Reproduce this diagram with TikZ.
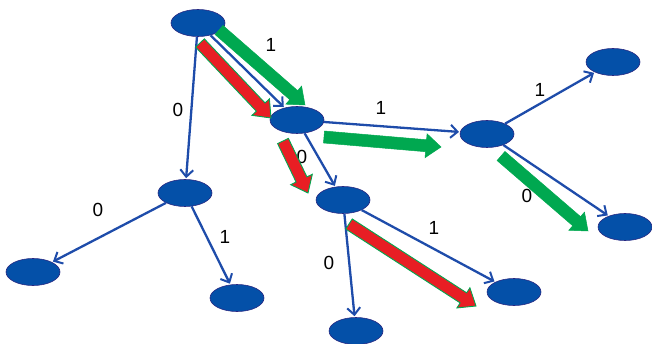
\documentclass[tikz,border=0pt]{standalone}
\usepackage{fontspec}
\setmainfont{Liberation Sans}
\usetikzlibrary{shapes.geometric,arrows.meta,calc}
\definecolor{nodeblue}{RGB}{4,80,168}
\definecolor{nodeedge}{RGB}{40,40,130}
\definecolor{lineblue}{RGB}{30,76,170}
\definecolor{hgreen}{RGB}{0,168,80}
\definecolor{hred}{RGB}{232,30,36}
\newcommand\fatarrow[3]{%
  \coordinate (fa-t) at ($(#3)!15pt!(#2)$);
  \filldraw[#1] ($(#2)!6pt!90:(#3)$) -- ($(fa-t)!6pt!-90:(#2)$) -- ($(fa-t)!12pt!-90:(#2)$) -- (#3) -- ($(fa-t)!12pt!90:(#2)$) -- ($(fa-t)!6pt!90:(#2)$) -- ($(#2)!6pt!-90:(#3)$) -- cycle;}
\begin{document}
\begin{tikzpicture}[x=1pt,y=-1pt,
  vtx/.style={ellipse,fill=nodeblue,draw=nodeedge,line width=0.6pt,minimum width=54pt,minimum height=27pt,inner sep=0pt},
  edge/.style={draw=lineblue,line width=2.3pt,-{Straight Barb[length=7pt,width=13pt,line width=2pt]},shorten >=1pt},
  lbl/.style={font=\fontsize{19}{21}\selectfont,text=black},
  greenarrow/.style={fill=hgreen,draw=hgreen,line width=0.5pt},
  redarrow/.style={fill=hred,draw=hgreen,line width=0.9pt}]
\useasboundingbox (0,0) rectangle (652,344);
% nodes
\node[vtx] (A) at (198,23) {};
\node[vtx] (B) at (297,120) {};
\node[vtx] (C) at (185,193) {};
\node[vtx] (D) at (33,272) {};
\node[vtx] (E) at (237,298) {};
\node[vtx] (F) at (343,200) {};
\node[vtx] (G) at (356,331) {};
\node[vtx] (H) at (514,292) {};
\node[vtx] (I) at (487,134) {};
\node[vtx] (J) at (613,62) {};
\node[vtx] (K) at (625,227) {};
% blue edges
\draw[edge] (A) -- (C);
\draw[edge] (A) -- (B);
\draw[edge] (B) -- (I);
\draw[edge] (B) -- (F);
\draw[edge] (C) -- (D);
\draw[edge] (C) -- (E);
\draw[edge] (F) -- (G);
\draw[edge] (F) -- (H);
\draw[edge] (I) -- (J);
\draw[edge] (I) -- (K);
% labels
\node[lbl] (l1) at (178,110) {0};
\node[lbl] (l2) at (271,45) {1};
\node[lbl] (l3) at (381,108) {1};
\node[lbl] (l4) at (302,157) {0};
\node[lbl] (l5) at (98,210) {0};
\node[lbl] (l6) at (225,237) {1};
\node[lbl] (l7) at (329,263) {0};
\node[lbl] (l8) at (434,228) {1};
\node[lbl] (l9) at (540,90) {1};
\node[lbl] (l10) at (527,196) {0};
% highlight arrows
\coordinate (g1s) at (219,30);
\coordinate (g1e) at (305,105);
\coordinate (r1s) at (200,43);
\coordinate (r1e) at (271,118);
\coordinate (g2s) at (324,137);
\coordinate (g2e) at (441,147);
\coordinate (r2s) at (283,141);
\coordinate (r2e) at (308,193);
\coordinate (r3s) at (349,224);
\coordinate (r3e) at (476,306);
\coordinate (g3s) at (501,156);
\coordinate (g3e) at (588,231);
\fatarrow{greenarrow}{g1s}{g1e}
\fatarrow{redarrow}{r1s}{r1e}
\fatarrow{greenarrow}{g2s}{g2e}
\fatarrow{redarrow}{r2s}{r2e}
\fatarrow{redarrow}{r3s}{r3e}
\fatarrow{greenarrow}{g3s}{g3e}
\end{tikzpicture}
\end{document}
